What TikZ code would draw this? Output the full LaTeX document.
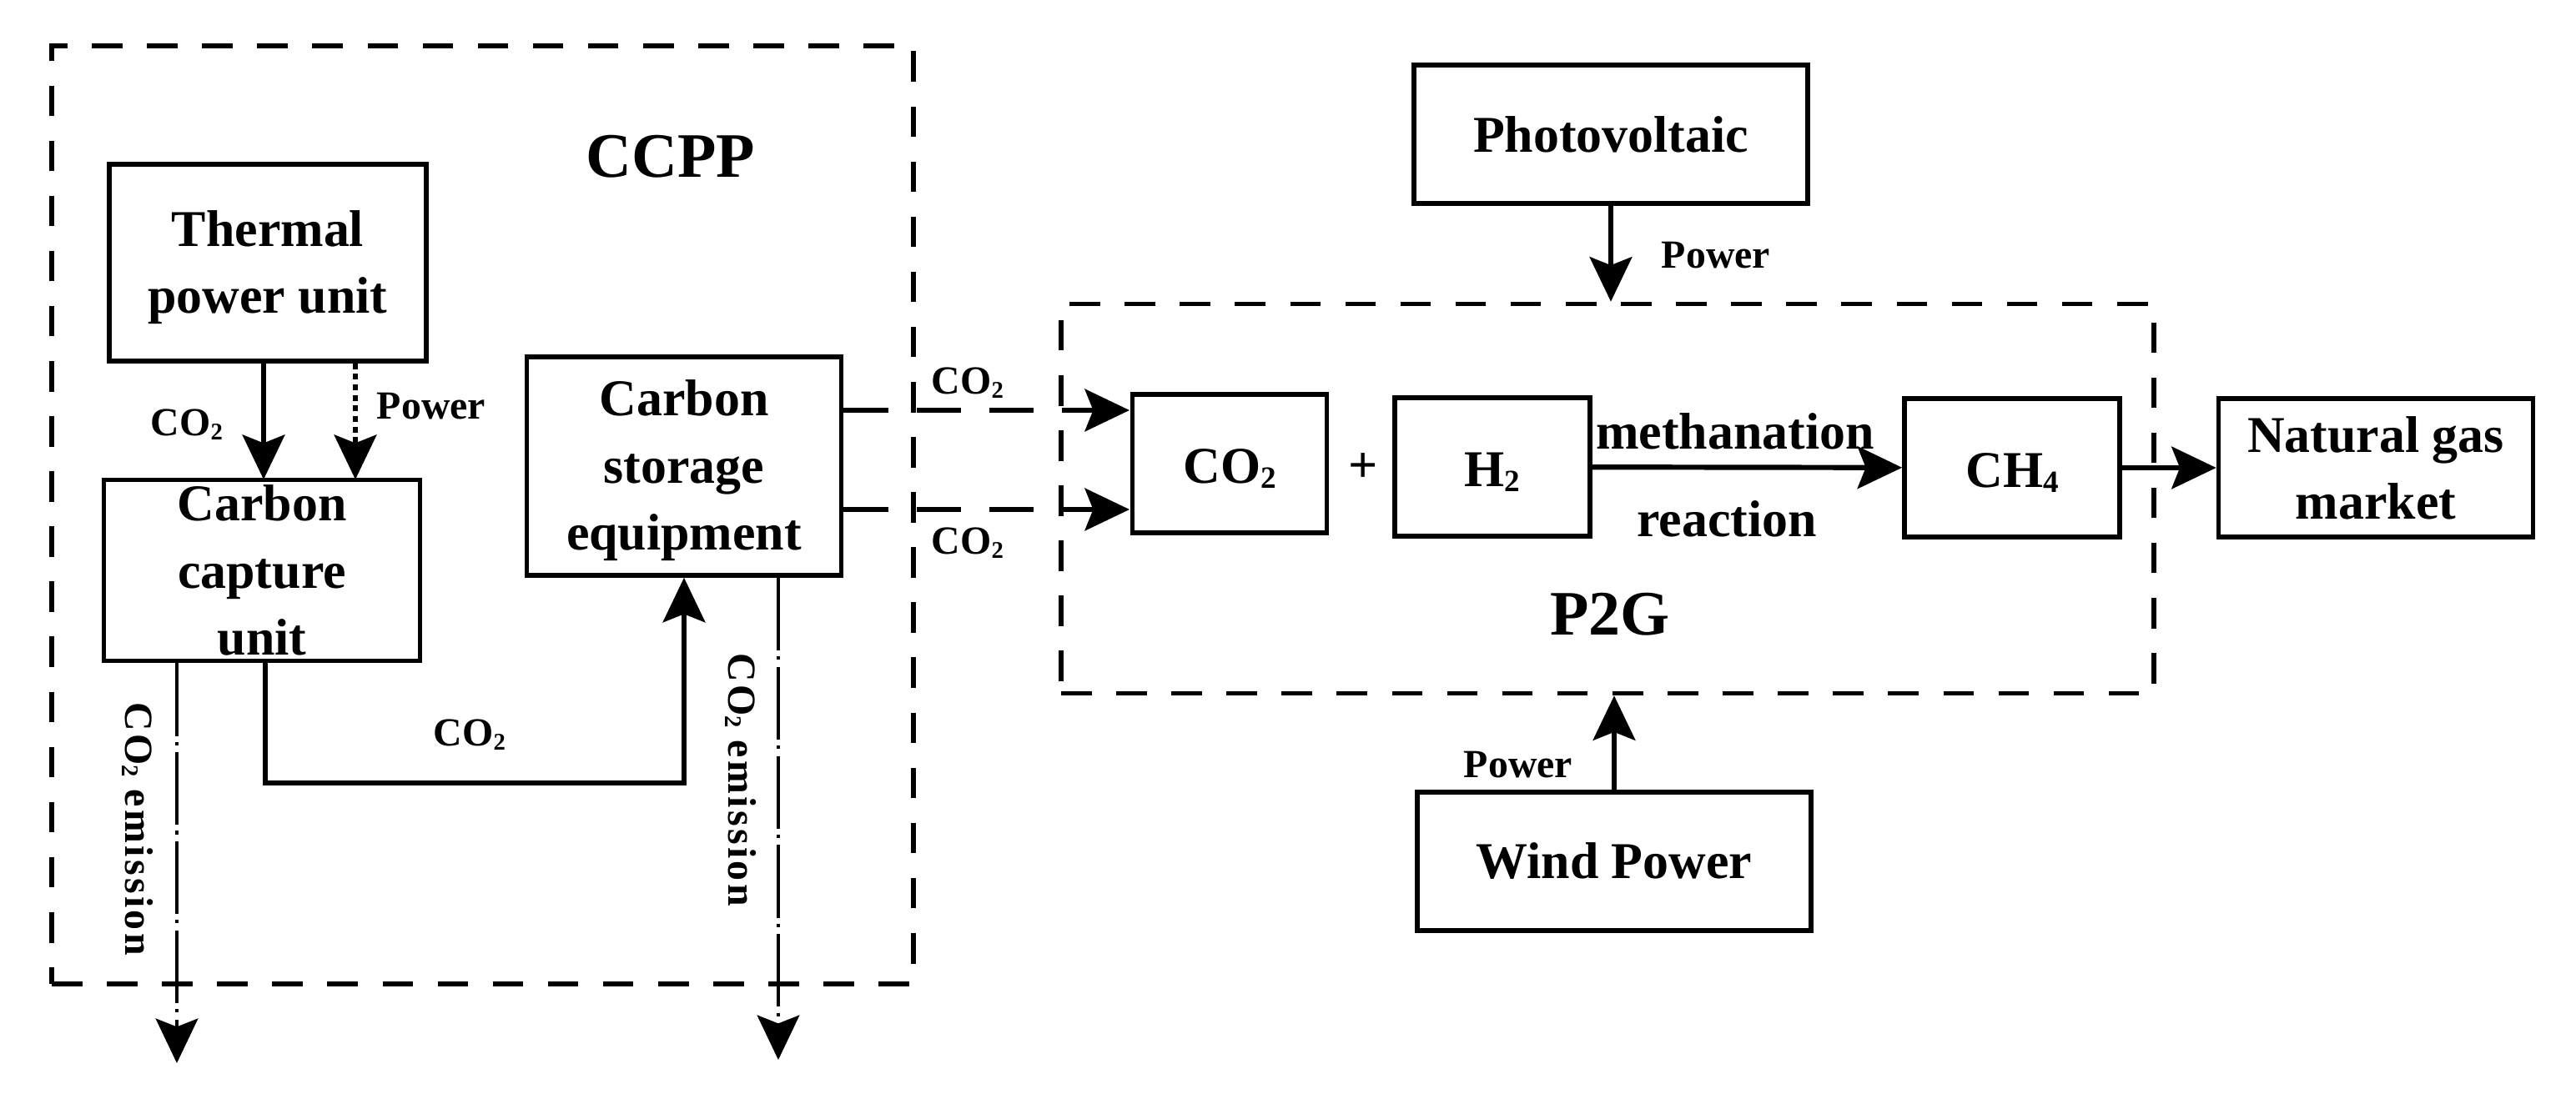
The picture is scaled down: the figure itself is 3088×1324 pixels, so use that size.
\documentclass[tikz,border=0pt]{standalone}
\usepackage{fontspec}
\setmainfont{Liberation Serif}
\usetikzlibrary{arrows.meta}
\def\ux{0.0125cm}
\newcommand{\lowidx}[1]{\raisebox{-.2ex}{\scalebox{.6}{#1}}}
\newcommand{\cotwo}{CO\lowidx{2}}
\newcommand{\topgap}{\rule{0pt}{19pt}}
\tikzset{
  block/.style={draw, line width=2pt, inner sep=0pt, align=center,
    font=\fontsize{22}{28.5}\selectfont\bfseries},
  group/.style={draw, line width=2pt, inner sep=0pt, dash pattern=on 13pt off 10.5pt},
  small/.style={inner sep=0pt, font=\fontsize{17}{20}\selectfont\bfseries},
  spaced/.style={inner sep=0pt, font=\fontsize{17}{20}\selectfont\bfseries\addfontfeature{LetterSpace=7}},
  title/.style={inner sep=0pt, font=\fontsize{27}{30}\selectfont\bfseries},
  word/.style={inner sep=0pt, font=\fontsize{22}{28}\selectfont\bfseries},
  flow/.style={line width=2.2pt, -{Stealth[length=19pt,width=18pt,inset=3.5pt]}},
  dashflow/.style={flow, dash pattern=on 19pt off 12pt},
  dotflow/.style={flow, dash pattern=on 2.5pt off 2pt},
  emitflow/.style={flow, line width=1.6pt, dash pattern=on 31pt off 2.5pt on 1.5pt off 3pt}
}
\begin{document}
\begin{tikzpicture}[x=\ux, y=-\ux]
\useasboundingbox (0,0) rectangle (3088,1324);

% dashed groups
\node[group, minimum width=1033*\ux, minimum height=1125*\ux] (ccpp) at (578.5,617.5) {};
\node[group, minimum width=1310*\ux, minimum height=467*\ux] (p2g) at (1927,598) {};
\node[title] (ccpplabel) at (804,188) {CCPP};
\node[title] (p2glabel) at (1930,737) {P2G};

% left side
\node[block, minimum width=380*\ux, minimum height=236*\ux] (thermal) at (321,315) {\topgap Thermal\\power unit};
\node[block, minimum width=379*\ux, minimum height=217*\ux] (capture) at (314,684) {Carbon\\capture\\unit};
\node[block, minimum width=377*\ux, minimum height=262*\ux] (storage) at (820,559) {\topgap Carbon\\storage\\equipment};

% right side
\node[block, minimum width=472*\ux, minimum height=166*\ux] (photo) at (1931,161) {Photovoltaic};
\node[block, minimum width=472*\ux, minimum height=166*\ux] (wind) at (1935,1033) {Wind Power};
\node[block, minimum width=233*\ux, minimum height=166*\ux] (co2) at (1474,556) {\topgap\cotwo};
\node[block, minimum width=234*\ux, minimum height=166*\ux] (h2) at (1789,560) {\topgap H\lowidx{2}};
\node[block, minimum width=258*\ux, minimum height=166*\ux] (ch4) at (2412,561) {\topgap CH\lowidx{4}};
\node[block, minimum width=377*\ux, minimum height=166*\ux] (market) at (2848,561) {Natural gas\\market};
\node[word] (plus) at (1634,561) {+};
\node[word] (methanation) at (2080,517) {methanation};
\node[word] (reaction) at (2070,622) {reaction};

% free ends
\coordinate (capin) at (316,575);
\coordinate (powerin) at (426,575);
\coordinate (outa) at (1354,492);
\coordinate (outb) at (1354,611);
\coordinate (emitl) at (212,1275);
\coordinate (emitr) at (933,1271);
\coordinate (turn) at (318,939);

\draw[flow] (thermal.south -| capin) -- (capin);
\draw[dotflow] (thermal.south -| powerin) -- (powerin);
\draw[flow] (capture.south -| turn) -- (turn) -| (storage.south);
\draw[dashflow] (storage.east |- outa) -- (outa);
\draw[dashflow] (storage.east |- outb) -- (outb);
\draw[emitflow] (capture.south -| emitl) -- (emitl);
\draw[emitflow] (storage.south -| emitr) -- (emitr);
\draw[flow] (photo) -- (photo |- p2g.north);
\draw[flow] (wind) -- (wind |- p2g.south);
\draw[flow] (h2) -- (ch4);
\draw[flow] (ch4) -- (market);

% labels
\node[small] (co2a) at (224,509) {\cotwo};
\node[small] (powera) at (517,487) {Power};
\node[small] (co2b) at (563,881) {\cotwo};
\node[small] (co2c) at (1160,459) {\cotwo};
\node[small] (co2d) at (1160,651) {\cotwo};
\node[spaced, rotate=-90] (emita) at (165,994) {\cotwo{} emission};
\node[spaced, rotate=-90] (emitb) at (888,935) {\cotwo{} emission};
\node[small] (powerb) at (2057,306) {Power};
\node[small] (powerc) at (1820,917) {Power};
\end{tikzpicture}
\end{document}
